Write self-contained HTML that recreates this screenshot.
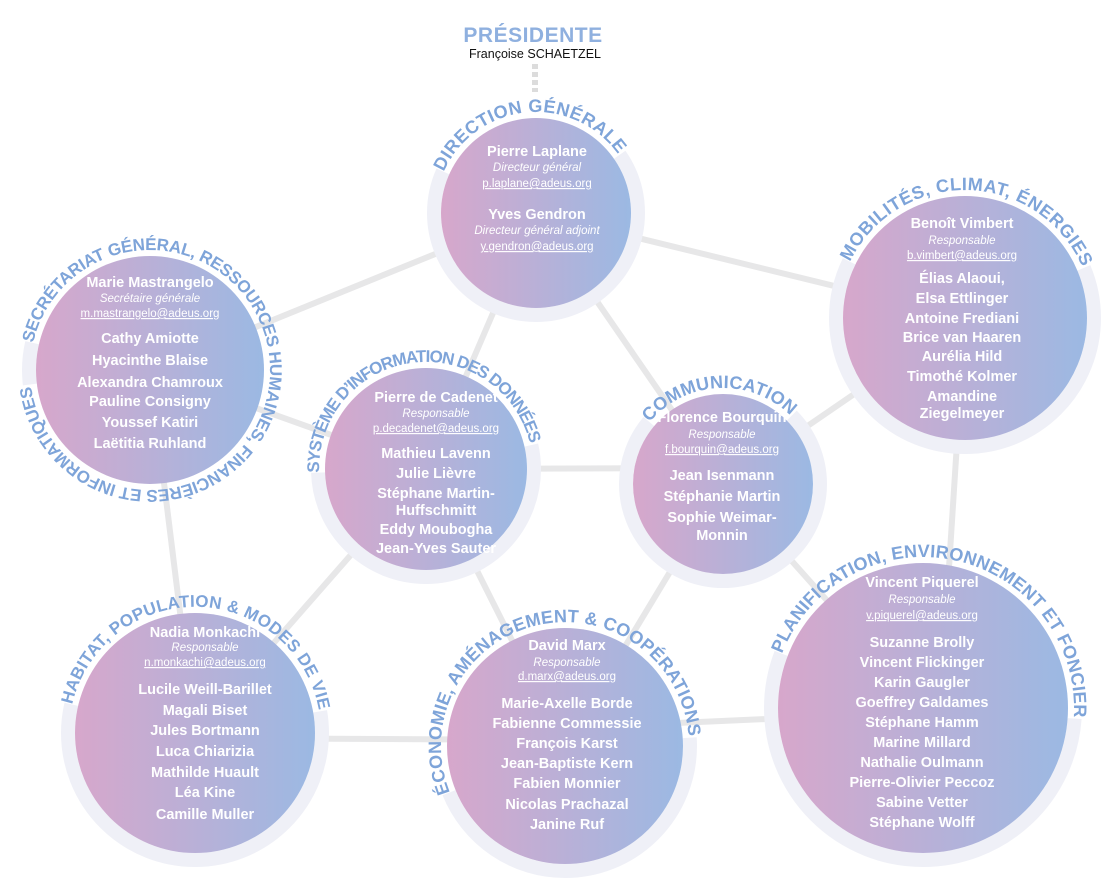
<!DOCTYPE html>
<html><head><meta charset="utf-8"><style>
html,body{margin:0;padding:0;background:#fff;}
svg{display:block;}
.lbl{font-family:"Liberation Sans",sans-serif;font-weight:bold;fill:#7ea4d9;font-size:18px;}
.n{font-family:"Liberation Sans",sans-serif;font-weight:bold;fill:#fff;font-size:14.5px;text-anchor:middle;dominant-baseline:middle;}
.r{font-family:"Liberation Sans",sans-serif;font-style:italic;fill:#fff;font-size:11.5px;text-anchor:middle;dominant-baseline:middle;}
.e{font-family:"Liberation Sans",sans-serif;fill:#fff;font-size:11.5px;text-anchor:middle;dominant-baseline:middle;text-decoration:underline;}
.band{fill:none;stroke:#eff0f7;stroke-width:14;}
</style></head><body>
<svg width="1110" height="890" viewBox="0 0 1110 890" xmlns="http://www.w3.org/2000/svg">
<defs>
<linearGradient id="g" x1="0" y1="0" x2="1" y2="0">
<stop offset="0" stop-color="#d7a7cb"/><stop offset="1" stop-color="#9bb9e3"/>
</linearGradient>
<path id="pDir" d="M443.7,171.9 A101,101 0 0 1 618.7,155.1"/>
<path id="pSec" d="M33.1,343.0 A120,120 0 1 1 30.9,384.6"/>
<path id="pSys" d="M319.1,472.7 A107,107 0 0 1 530.3,444.9"/>
<path id="pCom" d="M649.5,422.3 A96,96 0 0 1 790.9,416.1"/>
<path id="pMob" d="M850.0,261.9 A128,128 0 0 1 1082.8,268.0"/>
<path id="pHab" d="M72.2,704.6 A126,126 0 0 1 319.1,711.1"/>
<path id="pEco" d="M450.0,792.5 A124,124 0 1 1 688.7,737.3"/>
<path id="pPla" d="M782.0,653.9 A151,151 0 0 1 1073.6,718.5"/>
</defs>

<text x="533" y="42" text-anchor="middle" style="font-family:'Liberation Sans',sans-serif;font-weight:bold;font-size:21px;fill:#8fb0df;letter-spacing:0.5px">PRÉSIDENTE</text>
<text x="535" y="58" text-anchor="middle" style="font-family:'Liberation Sans',sans-serif;font-size:12.5px;fill:#111">Françoise SCHAETZEL</text>
<line x1="535" y1="64" x2="535" y2="92" stroke="#dcdcdc" stroke-width="6" stroke-dasharray="5 3"/>

<g stroke="#e7e7e8" stroke-width="6" stroke-linecap="butt">
<line x1="536" y1="213" x2="150" y2="370"/>
<line x1="536" y1="213" x2="965" y2="318"/>
<line x1="536" y1="213" x2="426" y2="469"/>
<line x1="536" y1="213" x2="723" y2="484"/>
<line x1="150" y1="370" x2="426" y2="469"/>
<line x1="150" y1="370" x2="195" y2="733"/>
<line x1="426" y1="469" x2="723" y2="468"/>
<line x1="426" y1="469" x2="195" y2="733"/>
<line x1="426" y1="469" x2="565" y2="746"/>
<line x1="723" y1="484" x2="965" y2="318"/>
<line x1="723" y1="484" x2="565" y2="746"/>
<line x1="723" y1="484" x2="923" y2="708"/>
<line x1="965" y1="318" x2="940" y2="708"/>
<line x1="195" y1="738" x2="565" y2="740"/>
<line x1="565" y1="728" x2="923" y2="712"/>
</g>

<circle class="band" cx="536" cy="213" r="102" stroke-dasharray="425.5 215.4" stroke-dashoffset="-578.6"/>
<circle class="band" cx="150" cy="370" r="121" stroke-dasharray="42.2 718.0" stroke-dashoffset="-365.4"/>
<circle class="band" cx="426" cy="469" r="108" stroke-dasharray="360.0 318.6" stroke-dashoffset="-654.1"/>
<circle class="band" cx="723" cy="484" r="97" stroke-dasharray="448.7 160.8" stroke-dashoffset="-533.3"/>
<circle class="band" cx="965" cy="318" r="129" stroke-dasharray="515.6 294.9" stroke-dashoffset="-758.7"/>
<circle class="band" cx="195" cy="733" r="127" stroke-dasharray="450.0 348.0" stroke-dashoffset="-775.8"/>
<circle class="band" cx="565" cy="746" r="125" stroke-dasharray="353.4 432.0" stroke-dashoffset="-776.7"/>
<circle class="band" cx="923" cy="708" r="152" stroke-dasharray="522.6 432.4" stroke-dashoffset="-10.6"/>

<g fill="url(#g)">
<circle cx="536" cy="213" r="95"/>
<circle cx="150" cy="370" r="114"/>
<circle cx="426" cy="469" r="101"/>
<circle cx="723" cy="484" r="90"/>
<circle cx="965" cy="318" r="122"/>
<circle cx="195" cy="733" r="120"/>
<circle cx="565" cy="746" r="118"/>
<circle cx="923" cy="708" r="145"/>
</g>

<text class="lbl"><textPath href="#pDir" textLength="212" lengthAdjust="spacing">DIRECTION GÉNÉRALE</textPath></text>
<text class="lbl" style="font-size:17px"><textPath href="#pSec" textLength="710" lengthAdjust="spacing">SECRÉTARIAT GÉNÉRAL, RESSOURCES HUMAINES, FINANCIÈRES ET INFORMATIQUES</textPath></text>
<text class="lbl" style="font-size:17px"><textPath href="#pSys" textLength="314" lengthAdjust="spacing">SYSTÈME D’INFORMATION DES DONNÉES</textPath></text>
<text class="lbl"><textPath href="#pCom" textLength="158" lengthAdjust="spacing">COMMUNICATION</textPath></text>
<text class="lbl"><textPath href="#pMob" textLength="291" lengthAdjust="spacing">MOBILITÉS, CLIMAT, ÉNERGIES</textPath></text>
<text class="lbl" style="font-size:17px"><textPath href="#pHab" textLength="344" lengthAdjust="spacing">HABITAT, POPULATION &amp; MODES DE VIE</textPath></text>
<text class="lbl"><textPath href="#pEco" textLength="427" lengthAdjust="spacing">ÉCONOMIE, AMÉNAGEMENT &amp; COOPÉRATIONS</textPath></text>
<text class="lbl"><textPath href="#pPla" textLength="428" lengthAdjust="spacing">PLANIFICATION, ENVIRONNEMENT ET FONCIER</textPath></text>

<text class="n" x="537" y="152">Pierre Laplane</text>
<text class="r" x="537" y="168">Directeur général</text>
<text class="e" x="537" y="184">p.laplane@adeus.org</text>
<text class="n" x="537" y="215">Yves Gendron</text>
<text class="r" x="537" y="231">Directeur général adjoint</text>
<text class="e" x="537" y="247">y.gendron@adeus.org</text>

<text class="n" x="150" y="283">Marie Mastrangelo</text>
<text class="r" x="150" y="299">Secrétaire générale</text>
<text class="e" x="150" y="314">m.mastrangelo@adeus.org</text>
<text class="n" x="150" y="339">Cathy Amiotte</text>
<text class="n" x="150" y="361">Hyacinthe Blaise</text>
<text class="n" x="150" y="383">Alexandra Chamroux</text>
<text class="n" x="150" y="402">Pauline Consigny</text>
<text class="n" x="150" y="423">Youssef Katiri</text>
<text class="n" x="150" y="444">Laëtitia Ruhland</text>

<text class="n" x="436" y="398">Pierre de Cadenet</text>
<text class="r" x="436" y="414">Responsable</text>
<text class="e" x="436" y="429">p.decadenet@adeus.org</text>
<text class="n" x="436" y="454">Mathieu Lavenn</text>
<text class="n" x="436" y="474">Julie Lièvre</text>
<text class="n" x="436" y="494">Stéphane Martin-</text>
<text class="n" x="436" y="511">Huffschmitt</text>
<text class="n" x="436" y="530">Eddy Moubogha</text>
<text class="n" x="436" y="549">Jean-Yves Sauter</text>

<text class="n" x="722" y="418">Florence Bourquin</text>
<text class="r" x="722" y="435">Responsable</text>
<text class="e" x="722" y="450">f.bourquin@adeus.org</text>
<text class="n" x="722" y="476">Jean Isenmann</text>
<text class="n" x="722" y="497">Stéphanie Martin</text>
<text class="n" x="722" y="518">Sophie Weimar-</text>
<text class="n" x="722" y="536">Monnin</text>

<text class="n" x="962" y="224">Benoît Vimbert</text>
<text class="r" x="962" y="241">Responsable</text>
<text class="e" x="962" y="256">b.vimbert@adeus.org</text>
<text class="n" x="962" y="279">Élias Alaoui,</text>
<text class="n" x="962" y="299">Elsa Ettlinger</text>
<text class="n" x="962" y="319">Antoine Frediani</text>
<text class="n" x="962" y="338">Brice van Haaren</text>
<text class="n" x="962" y="357">Aurélia Hild</text>
<text class="n" x="962" y="377">Timothé Kolmer</text>
<text class="n" x="962" y="397">Amandine</text>
<text class="n" x="962" y="414">Ziegelmeyer</text>

<text class="n" x="205" y="633">Nadia Monkachi</text>
<text class="r" x="205" y="648">Responsable</text>
<text class="e" x="205" y="663">n.monkachi@adeus.org</text>
<text class="n" x="205" y="690">Lucile Weill-Barillet</text>
<text class="n" x="205" y="711">Magali Biset</text>
<text class="n" x="205" y="731">Jules Bortmann</text>
<text class="n" x="205" y="752">Luca Chiarizia</text>
<text class="n" x="205" y="773">Mathilde Huault</text>
<text class="n" x="205" y="793">Léa Kine</text>
<text class="n" x="205" y="815">Camille Muller</text>

<text class="n" x="567" y="646">David Marx</text>
<text class="r" x="567" y="663">Responsable</text>
<text class="e" x="567" y="677">d.marx@adeus.org</text>
<text class="n" x="567" y="704">Marie-Axelle Borde</text>
<text class="n" x="567" y="724">Fabienne Commessie</text>
<text class="n" x="567" y="744">François Karst</text>
<text class="n" x="567" y="764">Jean-Baptiste Kern</text>
<text class="n" x="567" y="784">Fabien Monnier</text>
<text class="n" x="567" y="805">Nicolas Prachazal</text>
<text class="n" x="567" y="825">Janine Ruf</text>

<text class="n" x="922" y="583">Vincent Piquerel</text>
<text class="r" x="922" y="600">Responsable</text>
<text class="e" x="922" y="616">v.piquerel@adeus.org</text>
<text class="n" x="922" y="643">Suzanne Brolly</text>
<text class="n" x="922" y="663">Vincent Flickinger</text>
<text class="n" x="922" y="683">Karin Gaugler</text>
<text class="n" x="922" y="703">Goeffrey Galdames</text>
<text class="n" x="922" y="723">Stéphane Hamm</text>
<text class="n" x="922" y="743">Marine Millard</text>
<text class="n" x="922" y="763">Nathalie Oulmann</text>
<text class="n" x="922" y="783">Pierre-Olivier Peccoz</text>
<text class="n" x="922" y="803">Sabine Vetter</text>
<text class="n" x="922" y="823">Stéphane Wolff</text>
</svg>
</body></html>
